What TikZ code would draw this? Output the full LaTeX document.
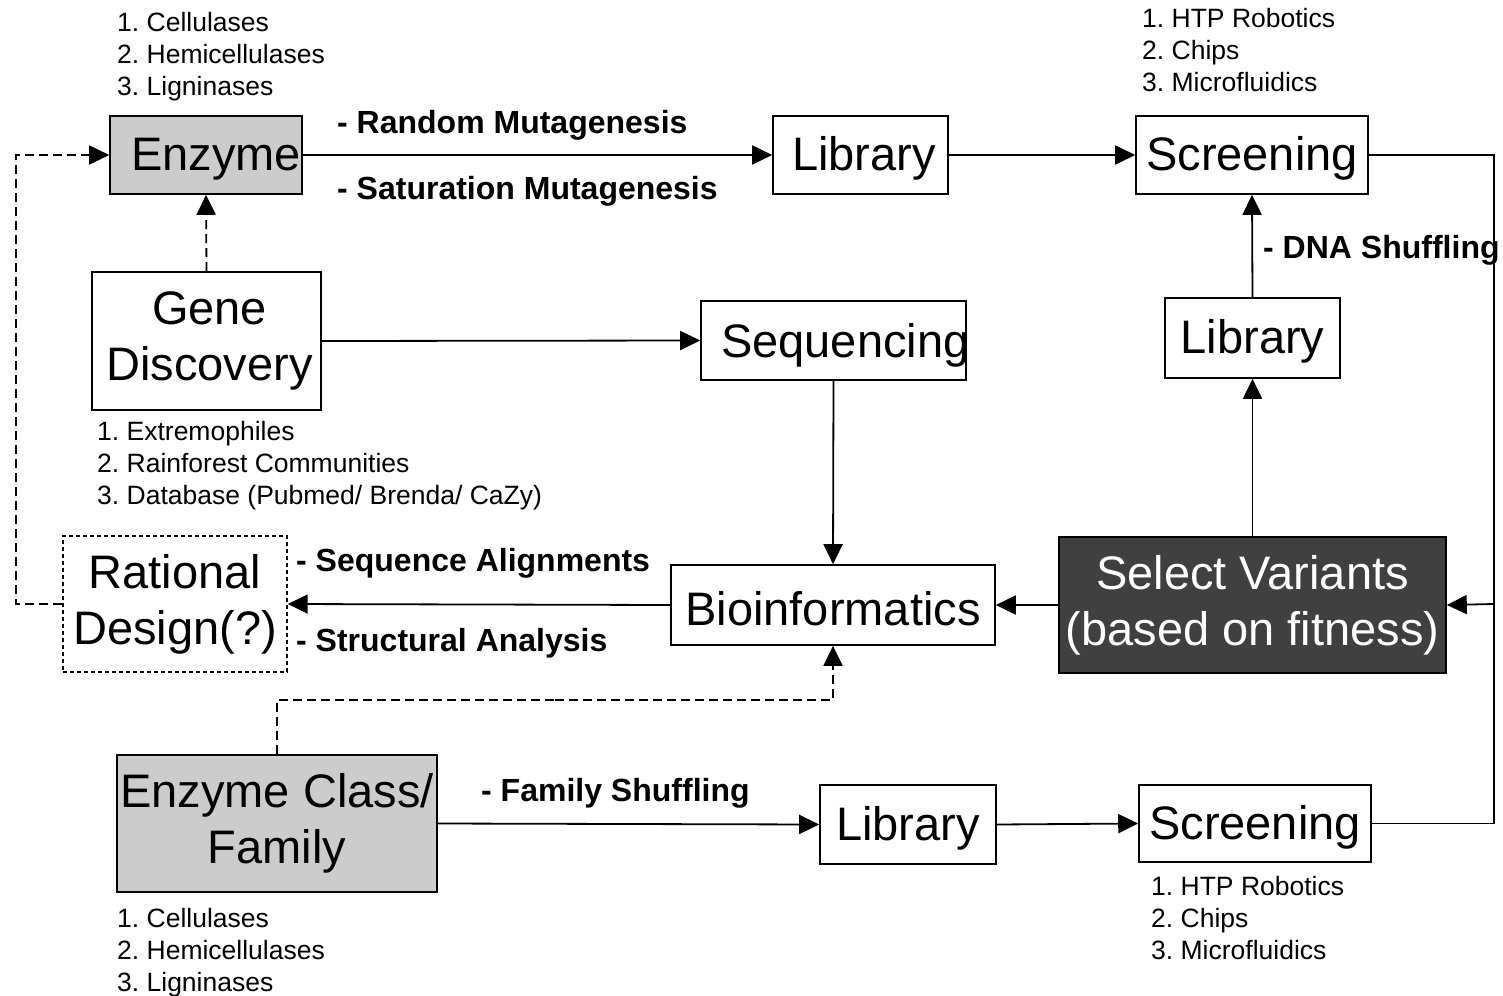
\documentclass[tikz,border=0pt]{standalone}
\usepackage{fontspec}
\setmainfont{Liberation Sans}
\usetikzlibrary{arrows.meta}
\frenchspacing

\newcommand{\bigtxt}{\fontsize{47}{56}\selectfont}
\newcommand{\listtxt}{\fontsize{26.5}{32}\selectfont}
\newcommand{\lbltxt}{\fontsize{32}{38}\selectfont\bfseries}

\tikzset{
  stagebox/.style={draw, line width=1.6pt, inner sep=0pt, align=center, font=\bigtxt,
    execute at begin node={\rule{0pt}{41pt}}},
  greybox/.style={stagebox, fill=black!20},
  darkbox/.style={stagebox, fill=black!75, text=white},
  dashbox/.style={stagebox, dash pattern=on 4pt off 3pt, line width=1.4pt},
  conn/.style={line width=1.8pt},
  arr/.style={conn, -{Triangle[length=20pt,width=19pt]}},
  dasharr/.style={arr, dash pattern=on 9pt off 5pt},
  dashline/.style={conn, dash pattern=on 9pt off 5pt},
  steplist/.style={anchor=west, align=left, inner sep=0pt, font=\listtxt},
  edgelbl/.style={anchor=west, inner sep=0pt, font=\lbltxt},
}

\begin{document}
\begin{tikzpicture}[x=1pt, y=-1pt]
\useasboundingbox (0,0) rectangle (1503,995);

% --- stage boxes ---
\node[greybox, minimum width=192, minimum height=78] (enz) at (206,155) {\hspace*{20pt}Enzyme};
\node[stagebox, minimum width=175, minimum height=78] (lib1) at (860.5,155) {\hspace*{7pt}Library};
\node[stagebox, minimum width=232, minimum height=78] (scr1) at (1252,155) {Screening};
\node[stagebox, minimum width=229, minimum height=138] (gene) at (206.5,341) {\hspace*{6pt}Gene\\\hspace*{6pt}Discovery};
\node[stagebox, minimum width=265, minimum height=79, execute at begin node={}] (seq) at (833.5,340.5) {};
\node[anchor=west, inner sep=0pt, font=\bigtxt] (seqtxt) at (721,345) {Sequencing};
\node[stagebox, minimum width=175, minimum height=80] (lib2) at (1252.5,338) {Library};
\node[darkbox, minimum width=387, minimum height=136] (sel) at (1252.5,605) {Select Variants\\(based on fitness)};
\node[stagebox, minimum width=324, minimum height=80] (bio) at (833,605) {Bioinformatics};
\node[dashbox, minimum width=224, minimum height=136] (rat) at (175,604) {Rational\\Design(?)};
\node[greybox, minimum width=320, minimum height=137] (ecf) at (277,823.5) {Enzyme Class/\\Family};
\node[stagebox, minimum width=176, minimum height=79] (lib3) at (908,824.5) {Library};
\node[stagebox, minimum width=232, minimum height=77] (scr3) at (1255,823.5) {Screening};

% --- bus points for the routed connectors ---
\coordinate (rbus) at (1494,604);
\coordinate (lbus) at (16,155);
\coordinate (dbus) at (555,700);

% --- connectors ---
\draw[arr] (enz.east) -- (lib1.west);
\draw[arr] (lib1.east) -- (scr1.west);
\draw[arr] (scr1.east) -| (rbus) -- (sel.east);
\draw[conn] (scr3.east) -| (rbus);
\draw[arr] (sel.north) -- (lib2.south);
\draw[arr] (lib2.north) -- (scr1.south);
\draw[dasharr] (gene.north) -- (enz.south);
\draw[arr] (gene.east) -- (seq.west);
\draw[arr] (seq.south) -- (bio.north);
\draw[arr] (sel.west) -- (bio.east);
\draw[arr] (bio.west) -- (rat.east);
\draw[dasharr] (rat.west) -| (lbus) -- (enz.west);
\draw[dashline] (ecf.north) |- (dbus);
\draw[dasharr] (dbus) -| (bio.south);
\draw[arr] (ecf.east) -- (lib3.west);
\draw[arr] (lib3.east) -- (scr3.west);

% --- connector labels ---
\node[edgelbl] (lrand) at (337,125) {- Random Mutagenesis};
\node[edgelbl] (lsat) at (337,191) {- Saturation Mutagenesis};
\node[edgelbl] (ldna) at (1263,250) {- DNA Shuffling};
\node[edgelbl] (lalign) at (296,563) {- Sequence Alignments};
\node[edgelbl] (lstruct) at (296,643) {- Structural Analysis};
\node[edgelbl] (lfam) at (481,793) {- Family Shuffling};

% --- item lists ---
\node[steplist] (l1) at (117,57) {1. Cellulases\\2. Hemicellulases\\3. Ligninases};
\node[steplist] (l2) at (1142,50) {1. HTP Robotics\\2. Chips\\3. Microfluidics};
\node[steplist] (l3) at (97,466) {1. Extremophiles\\2. Rainforest Communities\\3. Database (Pubmed/ Brenda/ CaZy)};
\node[steplist] (l4) at (117,953) {1. Cellulases\\2. Hemicellulases\\3. Ligninases};
\node[steplist] (l5) at (1151,918) {1. HTP Robotics\\2. Chips\\3. Microfluidics};
\end{tikzpicture}
\end{document}
